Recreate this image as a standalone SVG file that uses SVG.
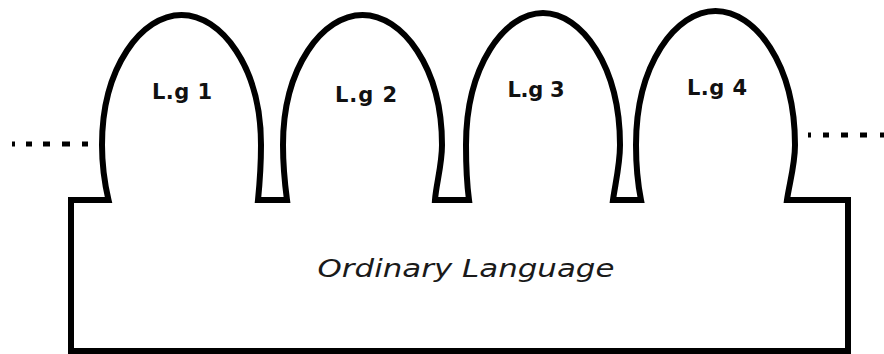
<svg xmlns="http://www.w3.org/2000/svg" width="884" height="354" viewBox="0 0 884 354">
  <style>
    .outline { fill: #ffffff; stroke: #000000; stroke-width: 6; stroke-linejoin: miter; }
    .lbl { font-family: "DejaVu Sans", "Liberation Sans", sans-serif; font-size: 21px; font-weight: bold; fill: #111111; text-anchor: middle; }
    .main { font-family: "DejaVu Sans", "Liberation Sans", sans-serif; font-size: 25px; font-style: italic; fill: #1a1a1a; text-anchor: middle; }
    .dots { stroke: #000000; stroke-width: 5; fill: none; }
  </style>
  <rect x="0" y="0" width="884" height="354" fill="#ffffff"/>
  <g id="outline">
    <path class="outline" d="M 71,351 L 71,200 L 108.5,200
      C 105,185 102,165 102,145 C 102,67 141.8,15 181.5,15 C 221.2,15 261,67 261,145 C 261,165 259.5,185 258,200
      L 287,200
      C 285,185 283,165 283,145 C 283,67 322.8,15 362.5,15 C 402.2,15 442,67 442,145 C 442,165 436,185 435,200
      L 469,200
      C 467,185 466,165 466,145 C 466,66 504.5,13 543,13 C 581.5,13 620,66 620,145 C 620,165 615,185 613,200
      L 641,200
      C 638,185 636,165 636,145 C 636,64 675.8,11 715.5,11 C 755.2,11 795,64 795,145 C 795,165 789,185 787,200
      L 848,200 L 848,351 Z"/>
  </g>
  <g id="lg1"><text class="lbl" x="182" y="99" textLength="60" lengthAdjust="spacing">L.g 1</text></g>
  <g id="lg2"><text class="lbl" x="366" y="102" textLength="62" lengthAdjust="spacing">L.g 2</text></g>
  <g id="lg3"><text class="lbl" x="536" y="97" textLength="57" lengthAdjust="spacing">L.g 3</text></g>
  <g id="lg4"><text class="lbl" x="717" y="95" textLength="60" lengthAdjust="spacing">L.g 4</text></g>
  <g id="ordinary-language"><text class="main" x="466" y="277" textLength="297" lengthAdjust="spacingAndGlyphs">Ordinary Language</text></g>
  <g id="connectors">
    <line class="dots" x1="12" y1="144" x2="88" y2="144" stroke-dasharray="3 11 6 11 7 12 8 12 6"/>
    <line class="dots" x1="808" y1="135" x2="884" y2="135" stroke-dasharray="3 12 6 12 7 12 7 13 4"/>
  </g>
</svg>
